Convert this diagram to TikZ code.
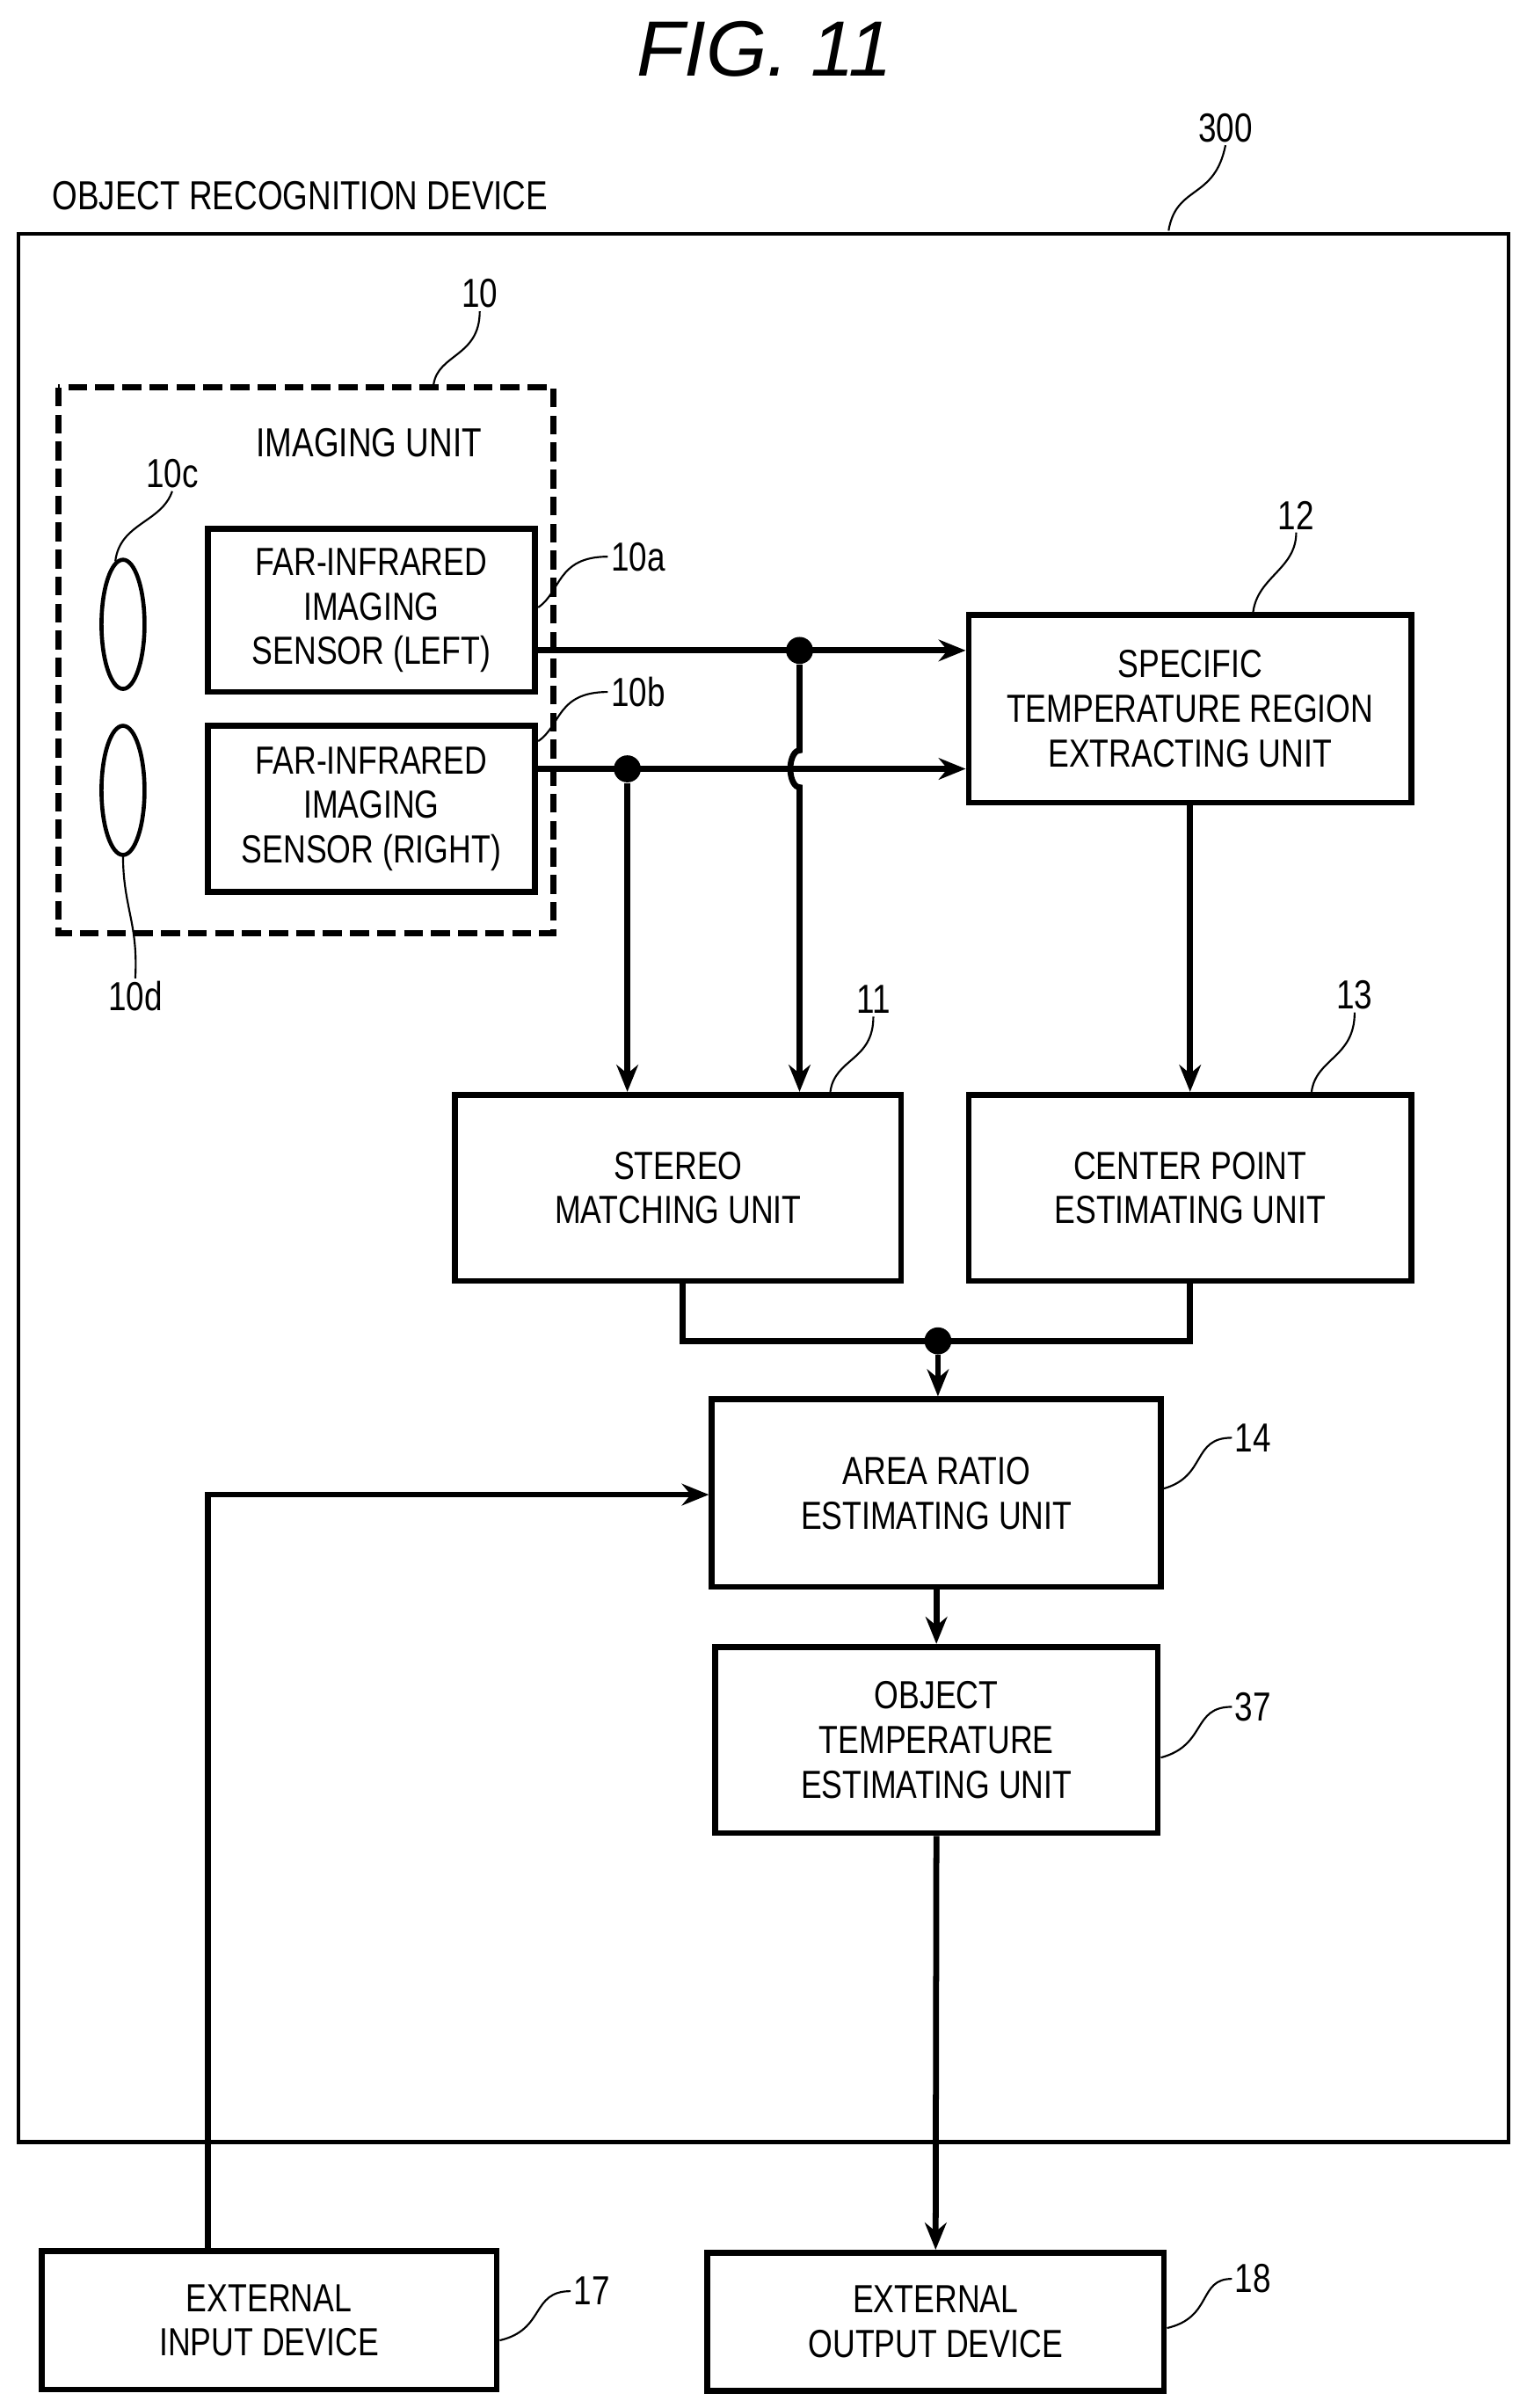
\documentclass[tikz,border=0pt]{standalone}
\usepackage{fontspec}
\setmainfont[FakeStretch=0.8]{Liberation Sans}
\newfontfamily\titlefont{Liberation Sans}
\usetikzlibrary{calc,positioning,arrows.meta}

\begin{document}
\begin{tikzpicture}[x=0.02cm,y=-0.02cm,>={Stealth[length=10pt,width=8pt]},
    box/.style={draw,line width=2.2pt,align=center,inner sep=0pt,font=\fontsize{14.5}{16.5}\selectfont},
    lbl/.style={font=\fontsize{15}{16}\selectfont,inner sep=1pt},
    lead/.style={line width=0.7pt},
    wire/.style={line width=2.2pt},
    dot/.style={circle,fill,inner sep=0pt,minimum size=10pt}]
    \useasboundingbox (0,0) rectangle (993,1566);
    \node[font=\titlefont\itshape\fontsize{29}{29}\selectfont] (fig) at (497,32) {FIG. 11};
    %
    \draw[line width=1.5pt] (12,152) rectangle (981,1393);
    \node[lbl,anchor=west] (device) at (32,127) {OBJECT RECOGNITION DEVICE};
    \node[lbl] (n300) at (797,83) {300};
    \draw[lead] (760,150) .. controls (765,120) and (790,130) .. (n300.south);
    %
    \draw[line width=2.2pt,dash pattern=on 7pt off 3pt] (38,252) rectangle (360,607);
    \node[lbl] (imaging) at (240,288) {IMAGING UNIT};
    \node[lbl] (n10) at (312,191) {10};
    \draw[lead] (282,250) .. controls (285,230) and (312,232) .. (n10.south);
    %
    \node[box,minimum width=213*0.02cm,minimum height=106*0.02cm] (left) at (241.5,397) {FAR-INFRARED\\IMAGING\\SENSOR (LEFT)};
    \node[box,minimum width=213*0.02cm,minimum height=108*0.02cm] (right) at (241.5,526) {FAR-INFRARED\\IMAGING\\SENSOR (RIGHT)};
    \draw[line width=1.5pt] (80,406) ellipse (14 and 42);
    \draw[line width=1.5pt] (80,514) ellipse (14 and 42);
    \node[lbl] (n10c) at (112,308) {10c};
    \draw[lead] (75,365) .. controls (78,340) and (105,340) .. (n10c.south);
    \node[lbl] (n10d) at (88,648) {10d};
    \draw[lead] (80,556) .. controls (80,590) and (90,600) .. (n10d.north);
    \node[lbl] (n10a) at (415,362) {10a};
    \draw[lead] (350,395) .. controls (365,385) and (362,362) .. (n10a.west);
    \node[lbl] (n10b) at (415,450) {10b};
    \draw[lead] (350,482) .. controls (365,472) and (362,450) .. (n10b.west);
    %
    \node[box,minimum width=288*0.02cm,minimum height=122*0.02cm] (extract) at (774,461) {SPECIFIC\\TEMPERATURE REGION\\EXTRACTING UNIT};
    \node[lbl] (n12) at (843,335) {12};
    \draw[lead] (815,398) .. controls (818,375) and (843,370) .. (n12.south);
    \node[box,minimum width=290*0.02cm,minimum height=121*0.02cm] (stereo) at (441,772.5) {STEREO\\MATCHING UNIT};
    \node[lbl] (n11) at (568,650) {11};
    \draw[lead] (540,710) .. controls (543,688) and (568,690) .. (n11.south);
    \node[box,minimum width=288*0.02cm,minimum height=121*0.02cm] (center) at (774,772.5) {CENTER POINT\\ESTIMATING UNIT};
    \node[lbl] (n13) at (881,647) {13};
    \draw[lead] (853,710) .. controls (856,688) and (881,688) .. (n13.south);
    \node[box,minimum width=292*0.02cm,minimum height=122*0.02cm] (area) at (609,971) {AREA RATIO\\ESTIMATING UNIT};
    \node[lbl] (n14) at (815,935) {14};
    \draw[lead] (757,968) .. controls (785,960) and (775,935) .. (n14.west);
    \node[box,minimum width=288*0.02cm,minimum height=121*0.02cm] (objtemp) at (609,1131.5) {OBJECT\\TEMPERATURE\\ESTIMATING UNIT};
    \node[lbl] (n37) at (815,1110) {37};
    \draw[lead] (755,1143) .. controls (785,1135) and (775,1110) .. (n37.west);
    \node[box,minimum width=296*0.02cm,minimum height=90*0.02cm] (input) at (175,1509) {EXTERNAL\\INPUT DEVICE};
    \node[lbl] (n17) at (385,1490) {17};
    \draw[lead] (325,1522) .. controls (355,1515) and (345,1490) .. (n17.west);
    \node[box,minimum width=297*0.02cm,minimum height=90*0.02cm] (output) at (608.5,1510) {EXTERNAL\\OUTPUT DEVICE};
    \node[lbl] (n18) at (815,1482) {18};
    \draw[lead] (759,1514) .. controls (789,1507) and (779,1482) .. (n18.west);
    %
    \coordinate (jL) at (520,423);
    \coordinate (jR) at (408,500);
    \draw[wire,->] (left.east |- jL) -- (extract.west |- jL);
    \draw[wire,->] (right.east |- jR) -- (extract.west |- jR);
    \node[dot] (dL) at (jL) {};
    \node[dot] (dR) at (jR) {};
    \draw[wire,->] (dR) -- (dR |- stereo.north);
    \draw[wire,->] (dL) -- (520,488) arc (-90:90:-6 and 12) -- (dL |- stereo.north);
    \draw[wire,->] (extract.south) -- (center.north);
    \draw[wire] (444,833) -- (444,872) -- (774,872) -- (774,833);
    \node[dot] (dM) at (610,872) {};
    \draw[wire,->] (dM) -- (dM |- area.north);
    \draw[wire,->] (area.south) -- (objtemp.north);
    \draw[wire,->] (objtemp.south) -- (output.north);
    \draw[wire,->] (135,1464) -- (135,972) -- (area.west |- 0,972);
\end{tikzpicture}
\end{document}
